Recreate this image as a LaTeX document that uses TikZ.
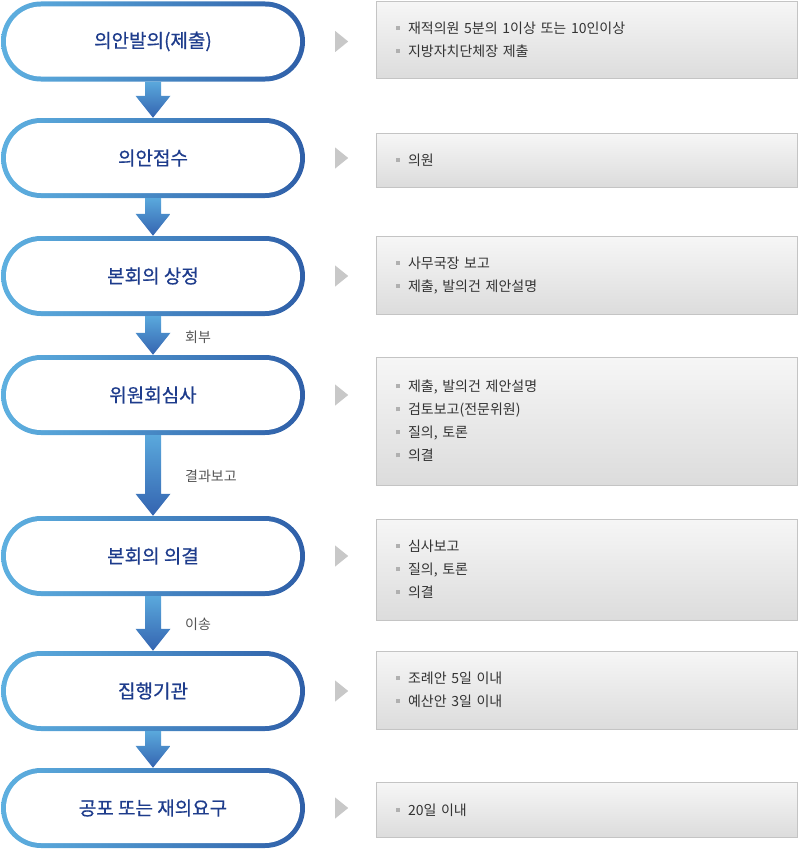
\documentclass[tikz,border=0pt]{standalone}
\usepackage{fontspec}
\newfontfamily\kr{Noto Sans CJK KR}
\newfontfamily\krb[FakeBold=0.6]{Noto Sans CJK KR}
\usetikzlibrary{shapes.misc,calc}
\definecolor{pilllight}{HTML}{5EB0E0}
\definecolor{pilldark}{HTML}{2F5FA8}
\definecolor{pilltext}{HTML}{1E3C8C}
\definecolor{arrtop}{HTML}{5AA8DC}
\definecolor{arrbot}{HTML}{3464B0}
\definecolor{boxtop}{HTML}{F6F6F6}
\definecolor{boxbot}{HTML}{DCDCDC}
\definecolor{boxline}{HTML}{C4C4C4}
\definecolor{trigray}{HTML}{C8C8C8}
\definecolor{bulgray}{HTML}{B0B0B0}
\definecolor{itemtext}{HTML}{333333}
\definecolor{lbltext}{HTML}{555555}
\newcommand\sq{\textcolor{bulgray}{\rule[3.5pt]{4pt}{4pt}}\hspace{8pt}}
\tikzset{
    pill/.style={rounded rectangle, minimum width=304pt, minimum height=80pt, inner sep=0pt, left color=pilllight, right color=pilldark},
    pillin/.style={rounded rectangle, minimum width=294pt, minimum height=70pt, inner sep=0pt, fill=white, text=pilltext, font=\krb\fontsize{19}{22}\selectfont},
    infobox/.style={draw=boxline, top color=boxtop, bottom color=boxbot, text width=381pt, inner xsep=20pt, inner ysep=0pt, align=left, text=itemtext, font=\kr\fontsize{14}{23}\selectfont},
    lbl/.style={anchor=west, inner sep=0pt, text=lbltext, font=\kr\fontsize{14}{16}\selectfont},
}
% thick arrow from one pill to the next
\newcommand\flowarrow[2]{%
    \shade[top color=arrtop, bottom color=arrbot]
        ($(#1.south)+(-8,0)$) -- ($(#2.north)+(-8,-22)$) -- ($(#2.north)+(-17.5,-22)$)
        -- (#2.north) -- ($(#2.north)+(17.5,-22)$) -- ($(#2.north)+(8,-22)$)
        -- ($(#1.south)+(8,0)$) -- cycle;}
\newcommand\pointer[1]{%
    \fill[trigray] ($(#1.east)+(30,-10.5)$) -- ++(13,10.5) -- ++(-13,10.5) -- cycle;}
\begin{document}
\begin{tikzpicture}[x=1pt, y=-1pt]
    \useasboundingbox (0,0) rectangle (798,851);
    \node[pill] (p1) at (153,41.5) {};
    \node[pillin] (p1t) at (p1) {의안발의(제출)};
    \node[pill] (p2) at (153,158) {};
    \node[pillin] (p2t) at (p2) {의안접수};
    \node[pill] (p3) at (153,276) {};
    \node[pillin] (p3t) at (p3) {본회의 상정};
    \node[pill] (p4) at (153,395) {};
    \node[pillin] (p4t) at (p4) {위원회심사};
    \node[pill] (p5) at (153,556) {};
    \node[pillin] (p5t) at (p5) {본회의 의결};
    \node[pill] (p6) at (153,691) {};
    \node[pillin] (p6t) at (p6) {집행기관};
    \node[pill] (p7) at (153,808) {};
    \node[pillin] (p7t) at (p7) {공포 또는 재의요구};

    \flowarrow{p1}{p2}
    \flowarrow{p2}{p3}
    \flowarrow{p3}{p4}
    \flowarrow{p4}{p5}
    \flowarrow{p5}{p6}
    \flowarrow{p6}{p7}
    \node[lbl] (l34) at ($(p3.south)!.5!(p4.north)+(32,1.5)$) {회부};
    \node[lbl] (l45) at ($(p4.south)!.5!(p5.north)+(32,0.5)$) {결과보고};
    \node[lbl] (l56) at ($(p5.south)!.5!(p6.north)+(32,0.5)$) {이송};

    \foreach \p in {p1,p2,p3,p4,p5,p6,p7} {\pointer{\p}}

    \node[infobox, minimum height=77pt] (b1) at (586.5,40) {\sq 재적의원 5분의 1이상 또는 10인이상\\\sq 지방자치단체장 제출};
    \node[infobox, minimum height=54pt] (b2) at (586.5,160) {\sq 의원};
    \node[infobox, minimum height=78pt] (b3) at (586.5,275.5) {\sq 사무국장 보고\\\sq 제출, 발의건 제안설명};
    \node[infobox, minimum height=128pt] (b4) at (586.5,421) {\sq 제출, 발의건 제안설명\\\sq 검토보고(전문위원)\\\sq 질의, 토론\\\sq 의결};
    \node[infobox, minimum height=101pt] (b5) at (586.5,569.5) {\sq 심사보고\\\sq 질의, 토론\\\sq 의결};
    \node[infobox, minimum height=78pt] (b6) at (586.5,690) {\sq 조례안 5일 이내\\\sq 예산안 3일 이내};
    \node[infobox, minimum height=55pt] (b7) at (586.5,810) {\sq 20일 이내};
\end{tikzpicture}
\end{document}
